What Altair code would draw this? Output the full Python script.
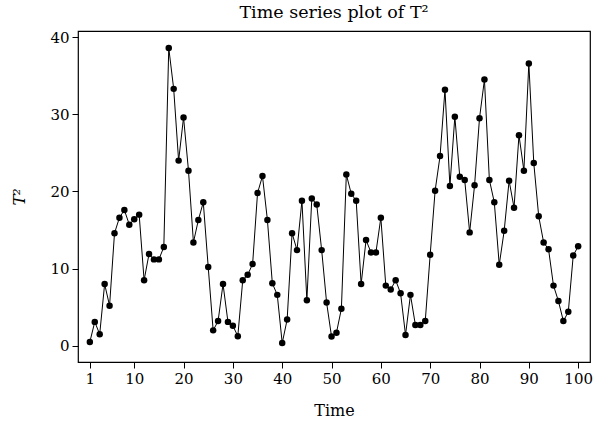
import altair as alt
import pandas as pd

time = list(range(1, 101))
t2 = [0.5, 3.1, 1.5, 8.0, 5.2, 14.6, 16.6, 17.6, 15.7, 16.4,
      17.0, 8.5, 11.9, 11.2, 11.2, 12.8, 38.6, 33.3, 24.0, 29.6,
      22.7, 13.4, 16.3, 18.6, 10.2, 2.0, 3.2, 8.0, 3.1, 2.6,
      1.25, 8.5, 9.2, 10.6, 19.8, 22.0, 16.3, 8.1, 6.6, 0.35,
      3.4, 14.6, 12.4, 18.8, 5.9, 19.1, 18.3, 12.4, 5.6, 1.2,
      1.7, 4.8, 22.2, 19.7, 18.8, 8.0, 13.7, 12.1, 12.1, 16.6,
      7.8, 7.3, 8.5, 6.8, 1.4, 6.6, 2.7, 2.7, 3.2, 11.8,
      20.1, 24.6, 33.2, 20.7, 29.7, 21.9, 21.5, 14.7, 20.8, 29.5,
      34.5, 21.5, 18.6, 10.5, 14.9, 21.4, 17.9, 27.3, 22.7, 36.6,
      23.7, 16.8, 13.4, 12.5, 7.8, 5.8, 3.2, 4.4, 11.7, 12.9]
x_ticks = [1, 10, 20, 30, 40, 50, 60, 70, 80, 90, 100]
y_ticks = [0, 10, 20, 30, 40]

df = pd.DataFrame({"Time": time, "T2": t2})
FONT = "DejaVu Serif"

x = alt.X("Time:Q", scale=alt.Scale(domain=[-1.4, 102.4], nice=False, zero=False),
          axis=alt.Axis(values=x_ticks, title="Time", grid=False, domain=False,
                        tickColor="black", labelColor="black", titleColor="black",
                        tickSize=6, labelFontSize=15, titleFontSize=16,
                        labelFont=FONT, titleFont=FONT, titleFontWeight="normal",
                        labelPadding=3, titlePadding=16))
y = alt.Y("T2:Q", scale=alt.Scale(domain=[-2.1, 40.8], nice=False, zero=False),
          axis=alt.Axis(values=y_ticks, title="T²", grid=False, domain=False,
                        tickColor="black", labelColor="black", titleColor="black",
                        tickSize=6, labelFontSize=15, titleFontSize=16,
                        labelFont=FONT, titleFont=FONT, titleFontWeight="normal",
                        titleFontStyle="italic",
                        labelPadding=3, titlePadding=22))

line = alt.Chart(df).mark_line(color="black", strokeWidth=1).encode(x=x, y=y)
pts = alt.Chart(df).mark_circle(color="black", opacity=1, size=42).encode(x=x, y=y)

chart = (line + pts).properties(
    width=512, height=331,
    autosize="none",
    padding={"left": 78, "top": 31, "right": 4, "bottom": 63},
    title=alt.TitleParams("Time series plot of T²", font=FONT, fontSize=17.5,
                          fontWeight="normal", color="black", anchor="middle", offset=9),
).configure_view(stroke="black", strokeWidth=1.2)

chart.save("out.html", embed_options={"renderer": "svg", "actions": False})
